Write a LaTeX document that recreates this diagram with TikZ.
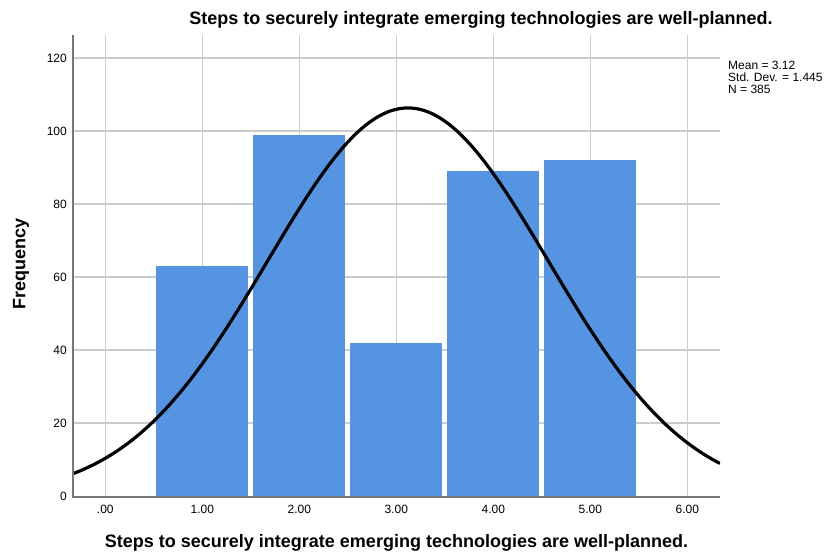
\documentclass[tikz,border=0pt]{standalone}
\usepackage{fontspec}
\setmainfont{Liberation Sans}
\definecolor{barblue}{RGB}{84,148,227}
\definecolor{gridgray}{RGB}{204,204,204}
\definecolor{axisgray}{RGB}{120,120,120}
\tikzset{
  gridline/.style={draw=gridgray, line width=1.4pt},
  axisline/.style={draw=axisgray, line width=1.6pt},
  barbox/.style={fill=barblue, draw=none},
  ticklab/.style={font=\fontsize{12}{12}\selectfont, inner sep=0pt},
  legendlab/.style={font=\fontsize{12}{12}\selectfont, inner sep=0pt, anchor=west},
  bigtitle/.style={font=\bfseries\fontsize{18}{18}\selectfont, inner sep=0pt},
  normcurve/.style={draw=black, line width=3.2pt}
}
\begin{document}
\begin{tikzpicture}[x=1pt,y=-1pt]
\useasboundingbox[fill=white] (0,0) rectangle (825,554);
% grid
\foreach \f in {20,40,...,120} {\draw[gridline] (73,{496-3.65*\f}) -- (720,{496-3.65*\f});}
\foreach \v in {0,...,6} {\draw[gridline] ({105.3+97*\v},35) -- ({105.3+97*\v},496);}
% bars
\foreach \c/\h in {1/63,2/99,3/42,4/89,5/92} {
  \fill[barbox] ({105.3+97*(\c-0.474)},496) rectangle ({105.3+97*(\c+0.474)},{496-3.65*\h});
}
% normal curve
\begin{scope}
\clip (73,0) rectangle (720,496);
\draw[normcurve, line join=round] plot[domain=-0.34:6.34, samples=220, smooth]
  ({105.3+97*\x},{496-3.65*106.29*exp(0-((\x-3.12)^2)/4.17605)});
\end{scope}
% axes
\draw[axisline] (73,35) -- (73,496.8) -- (720,496.8);
% y tick labels
\foreach \f in {0,20,...,120} {\node[ticklab, anchor=east] (yl\f) at (67,{496-3.65*\f}) {\f};}
% x tick labels
\node[ticklab] (xl0) at (105.3,509) {.00};
\foreach \v in {1,...,6} {\node[ticklab] (xl\v) at ({105.3+97*\v},509) {\v.00};}
% titles
\node[bigtitle] (title) at (481,20) {Steps to securely integrate emerging technologies are well-planned.};
\node[bigtitle] (xtitle) at (396.5,543) {Steps to securely integrate emerging technologies are well-planned.};
\node[bigtitle, rotate=90] (ytitle) at (21,264) {Frequency};
% legend
\node[legendlab] (mean) at (728,65.5) {Mean = 3.12};
\node[legendlab] (sd) at (728,77.5) {Std. Dev. = 1.445};
\node[legendlab] (n) at (728,89.5) {N = 385};
\end{tikzpicture}
\end{document}
